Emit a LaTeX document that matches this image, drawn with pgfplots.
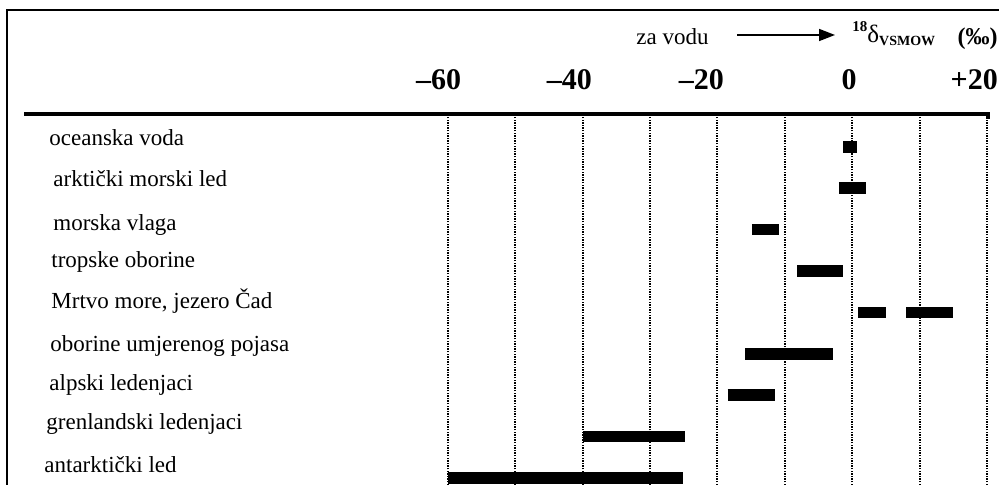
\documentclass[border=0pt]{standalone}
\usepackage{fontspec}
\setmainfont{Liberation Serif}
\usepackage{pgfplots}
\pgfplotsset{compat=1.18}
\usetikzlibrary{arrows.meta}
\pgfplotsset{rangebar/.style={black, solid, line width=5.8pt, line cap=butt, mark=none, forget plot}}
\begin{document}
\begin{tikzpicture}
\useasboundingbox (0pt,0pt) rectangle (499.5pt,-242.5pt);
\begin{axis}[
  at={(217.25pt,-242.5pt)}, anchor=south west,
  scale only axis, width=276.25pt, height=185.5pt,
  xmin=-62, xmax=20, ymin=-9.1695, ymax=-0.2103,
  axis line style={draw=none},
  xtick={-60,-50,...,20}, xticklabels={},
  ytick=\empty,
  major tick length=0pt,
  xmajorgrids, grid style={dash pattern=on 0.7pt off 0.6pt, line width=1pt, black},
  xticklabel pos=upper,
  extra x ticks={-61.4,-42.0,-22.4,-0.45,18.1},
  extra x tick labels={--60,--40,--20,0,+20},
  extra x tick style={grid=none, major tick length=0pt,
    xticklabel style={anchor=base, yshift=12pt, font=\fontsize{15}{15}\selectfont\bfseries}},
  clip=false,
]
% oceanska voda
\addplot[rangebar] coordinates {(-1.3,-1) (0.7,-1)};
% arkticki morski led
\addplot[rangebar] coordinates {(-2.0,-2) (2.0,-2)};
% morska vlaga
\addplot[rangebar] coordinates {(-14.9,-3) (-10.8,-3)};
% tropske oborine
\addplot[rangebar] coordinates {(-8.2,-4) (-1.4,-4)};
% Mrtvo more, jezero Cad
\addplot[rangebar] coordinates {(0.9,-5) (5.0,-5)};
\addplot[rangebar] coordinates {(8.0,-5) (15.0,-5)};
% oborine umjerenog pojasa
\addplot[rangebar] coordinates {(-15.9,-6) (-2.9,-6)};
% alpski ledenjaci
\addplot[rangebar] coordinates {(-18.5,-7) (-11.4,-7)};
% grenlandski ledenjaci
\addplot[rangebar] coordinates {(-39.9,-8) (-24.8,-8)};
% antarkticki led
\addplot[rangebar] coordinates {(-60.0,-9) (-25.1,-9)};
\end{axis}
\begin{scope}[x=0.5pt,y=-0.5pt]
\draw[line width=0.8pt] (7,485) -- (7,10) -- (999,10);
\draw[line width=1.6pt] (24,114) -- (988,114) -- (988,119);
\begin{scope}[every node/.style={anchor=base west, inner sep=0pt, font=\fontsize{11.5}{13}\selectfont}]
\node at (49,146) {oceanska voda};
\node at (53,187) {arktički morski led};
\node at (53,231) {morska vlaga};
\node at (51,268) {tropske oborine};
\node at (51,309) {Mrtvo more, jezero Čad};
\node at (50,352) {oborine umjerenog pojasa};
\node at (49,390) {alpski ledenjaci};
\node at (46,429) {grenlandski ledenjaci};
\node at (44,472) {antarktički led};
\node at (636,45) {za vodu};
\end{scope}
\draw[line width=0.8pt, -{Triangle[length=8pt,width=6pt]}] (737,35) -- (835,35);
\node[anchor=base west, inner sep=0pt, font=\fontsize{12.5}{13}\selectfont] at (852,43)
  {\raisebox{1.0ex}{\fontsize{7.5}{8}\selectfont\bfseries 18}δ\raisebox{-0.25ex}{\fontsize{7}{8}\selectfont\bfseries VSMOW}};
\node[anchor=base east, inner sep=0pt, font=\fontsize{12}{13}\selectfont\bfseries] at (998,45) {(‰)};
\end{scope}
\end{tikzpicture}
\end{document}
